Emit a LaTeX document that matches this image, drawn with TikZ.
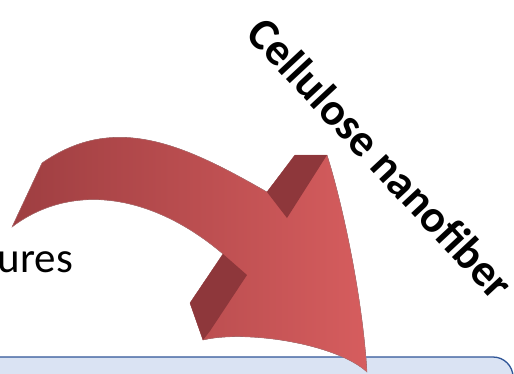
\documentclass[tikz,border=0pt]{standalone}
\usepackage{fontspec}
\setmainfont{Carlito}
\usepackage{tikz}
\usetikzlibrary{positioning}

\definecolor{panelfill}{HTML}{DAE3F3}
\definecolor{panelline}{HTML}{2F5597}
\definecolor{arrowtail}{HTML}{9E3E41}
\definecolor{arrowmid}{HTML}{C24D50}
\definecolor{arrowhead}{HTML}{D65D5E}
\definecolor{arrowside}{HTML}{8E373B}

\begin{document}
\begin{tikzpicture}[x=1pt, y=-1pt,
    panel/.style={
      draw=panelline, fill=panelfill,
      line width=1.3pt, rounded corners=20pt
    },
    bigarrow/.style={
      left color=arrowtail, middle color=arrowmid, right color=arrowhead,
      draw=arrowtail!70!white, line width=0.4pt
    },
    sideface/.style={fill=arrowside},
    captext/.style={font=\fontsize{43}{50}\selectfont, inner sep=0pt},
  ]
  \clip (0,0) rectangle (514,373);

  % panel below
  \draw[panel] (-30,357) rectangle (513,430);

  % texts
  \node[captext, anchor=base west] (structures) at (-2.5,272) {ures};
  \node[captext, font=\fontsize{45.5}{50}\selectfont\bfseries, rotate=-47] (fiber) at (381,158) {Cellulose nanofiber};

  % curved 3d arrow
  \filldraw[bigarrow] (12,227) -- (42,163)
    .. controls (115,112) and (185,145) .. (267,192)
    -- (295,155) -- (327,155)
    .. controls (340,195) and (362,290) .. (367,372)
    .. controls (335,343) and (245,330) .. (203,340)
    -- (190,303) -- (223,254)
    .. controls (150,192) and (70,183) .. (12,227) -- cycle;
  \fill[sideface] (267,192) -- (295,155) -- (327,155) -- (287,218) -- cycle;
  \fill[sideface] (223,254) -- (247,275) -- (210,331) -- (203,340) -- (190,303) -- cycle;
\end{tikzpicture}
\end{document}
